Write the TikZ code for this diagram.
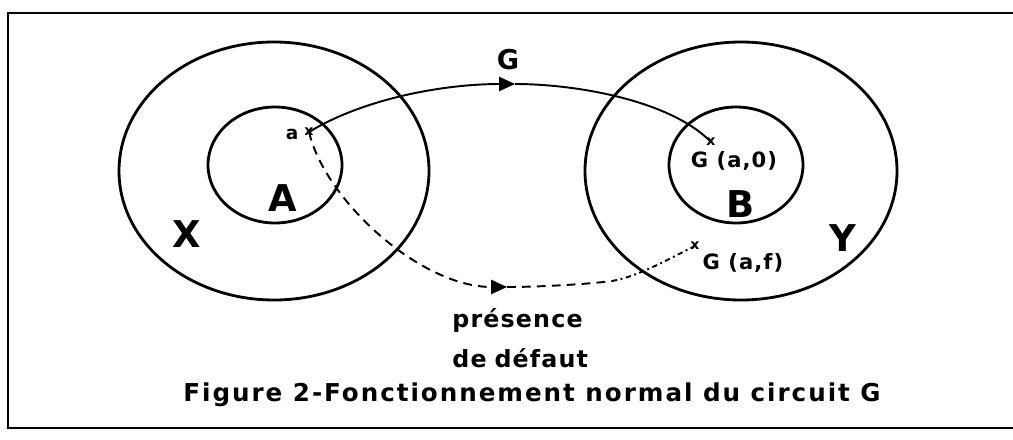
\documentclass[tikz,border=0pt]{standalone}
\usepackage{fontspec}
\setmainfont{DejaVu Sans}[LetterSpace=5]
\usetikzlibrary{arrows.meta}

\begin{document}
\begin{tikzpicture}[x=0.02cm,y=-0.02cm,
  ring/.style={line width=1.6pt},
  trace/.style={line width=1.1pt},
  tip/.style={-{Triangle[length=9pt,width=8pt]}},
  dsh/.style={dash pattern=on 5pt off 3.5pt},
  cross/.style={font=\fontsize{8}{8}\selectfont\bfseries,inner sep=0pt},
  setname/.style={font=\fontsize{21}{21}\selectfont\bfseries,inner sep=0pt},
  lbl/.style={font=\fontsize{12}{12}\selectfont\bfseries,inner sep=0pt}]
  \useasboundingbox (0,0) rectangle (1013,439);
  % frame, open on the right
  \draw[line width=1.7pt] (1030,13) -- (8,13) -- (8,428) -- (1030,428);
  % sets X, A and Y, B
  \draw[ring] (274,171) ellipse [x radius=155,y radius=129];
  \draw[ring] (275,165) ellipse [x radius=67,y radius=58];
  \draw[ring] (741,171) ellipse [x radius=156,y radius=129];
  \draw[ring] (736,165) ellipse [x radius=67,y radius=58];
  \node[setname] (X) at (187,234) {X};
  \node[setname] (A) at (283,198) {A};
  \node[setname] (B) at (741,204) {B};
  \node[setname] (Y) at (843,238) {Y};
  % points
  \coordinate (a) at (309,132);
  \coordinate (ga0) at (711,142);
  \coordinate (gaf) at (695,246);
  \coordinate (g1) at (515,84);
  \coordinate (g2) at (507,287);
  \coordinate (dd) at (612,281);
  \node[cross] (xa) at (a) {x};
  \node[cross] (xga0) at (ga0) {x};
  \node[cross] (xgaf) at (gaf) {x};
  \node[lbl,font=\fontsize{10.5}{10.5}\selectfont\bfseries] (la) at (292,134) {a};
  \node[lbl,font=\fontsize{15.5}{15.5}\selectfont\bfseries] (lG) at (508,60) {G};
  \node[lbl] (lga0) at (734,161) {G (a,0)};
  \node[lbl] (lgaf) at (743,263) {G (a,f)};
  % normal run
  \draw[trace,tip] (a) .. controls (365,98) and (445,84) .. (g1);
  \draw[trace] (g1) .. controls (575,84) and (670,100) .. (ga0);
  % run with a fault
  \draw[trace,dsh,tip] (a) .. controls (325,200) and (420,287) .. (g2);
  \draw[trace,dsh] (g2) .. controls (540,287) and (590,284) .. (dd);
  \draw[trace,dash dot] (dd) .. controls (640,276) and (670,258) .. (gaf);
  \node[lbl,font=\fontsize{13.5}{22.8}\selectfont\bfseries,align=left,anchor=west] (lf) at (452,338) {présence\\de\,\,défaut};
  \node[lbl,font=\fontsize{14}{14}\selectfont\bfseries\addfontfeature{LetterSpace=8}] (cap) at (532,395) {Figure 2-Fonctionnement normal du circuit G};
\end{tikzpicture}
\end{document}
